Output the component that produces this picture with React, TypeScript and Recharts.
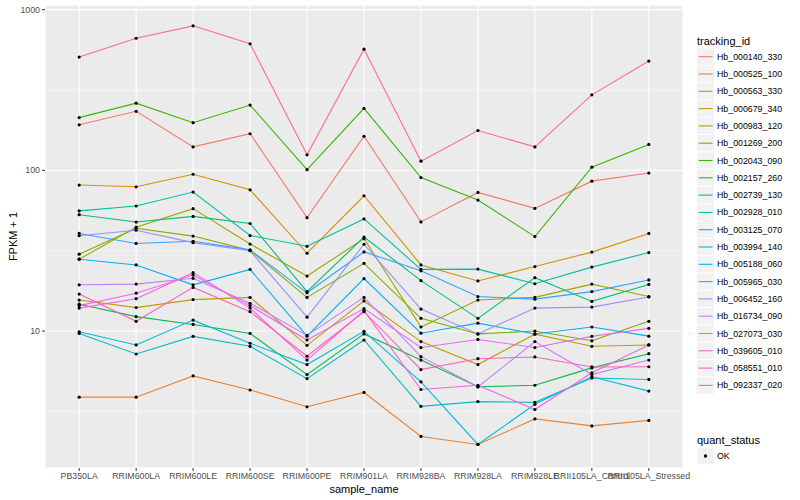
import React from 'react';
import { LineChart, Line, XAxis, YAxis, CartesianGrid } from 'recharts';

const FONT = '"Liberation Sans", Arial, Helvetica, sans-serif';

const samples = [
  'PB350LA', 'RRIM600LA', 'RRIM600LE', 'RRIM600SE', 'RRIM600PE', 'RRIM901LA',
  'RRIM928BA', 'RRIM928LA', 'RRIM928LE', 'RRII105LA_Control', 'RRII105LA_Stressed',
];

const trackingIds = [
  'Hb_000140_330', 'Hb_000525_100', 'Hb_000563_330', 'Hb_000679_340', 'Hb_000983_120',
  'Hb_001269_200', 'Hb_002043_090', 'Hb_002157_260', 'Hb_002739_130', 'Hb_002928_010',
  'Hb_003125_070', 'Hb_003994_140', 'Hb_005188_060', 'Hb_005965_030', 'Hb_006452_160',
  'Hb_016734_090', 'Hb_027073_030', 'Hb_039605_010', 'Hb_058551_010', 'Hb_092337_020',
];

const colors = [
  '#F8766D', '#EA8331', '#D89000', '#C09B00', '#A3A500', '#7CAE00', '#39B600', '#00BB4E',
  '#00BF7D', '#00C1A3', '#00BFC4', '#00BAE0', '#00B0F6', '#35A2FF', '#9590FF', '#C77CFF',
  '#E76BF3', '#FA62DB', '#FF62BC', '#FF6C91',
];

const hb000140 = [192, 233, 140, 169, 50.8, 163, 47.8, 72.9, 58, 85.7, 96.2];
const hb000525 = [3.88, 3.88, 5.26, 4.3, 3.38, 4.15, 2.21, 1.97, 2.84, 2.57, 2.78];
const hb000563 = [81, 79, 94.6, 75.7, 30.5, 69.5, 25.8, 20.5, 25.2, 31.0, 40.5];
const hb000679 = [15.6, 14.0, 15.7, 16.2, 8.15, 15.4, 8.6, 6.19, 9.57, 8.04, 8.2];
const hb000983 = [28.0, 44.3, 57.8, 34.8, 22.0, 37.6, 10.6, 15.6, 16.2, 19.6, 16.4];
const hb001269 = [30.1, 43.6, 39.0, 31.8, 16.2, 26.4, 12.0, 9.6, 10.0, 8.7, 11.5];
const hb002043 = [213, 262, 198, 255, 101, 243, 90.2, 65.3, 38.7, 104.7, 145];
const hb002157 = [14.7, 12.3, 11.0, 9.67, 5.36, 9.6, 6.6, 4.5, 4.6, 5.9, 7.23];
const hb002739 = [53, 47.7, 51.7, 46.7, 17.6, 38.5, 20.6, 12.0, 21.5, 15.3, 19.5];
const hb002928 = [56, 60, 73.3, 39.3, 33.7, 49.9, 24.2, 24.3, 19.7, 25.0, 30.8];
const hb003125 = [9.67, 7.2, 9.27, 8.04, 5.06, 8.8, 3.4, 3.64, 3.6, 5.1, 5.0];
const hb003994 = [9.9, 8.2, 11.7, 8.4, 6.19, 9.96, 4.83, 1.97, 3.5, 5.2, 4.23];
const hb005188 = [28.0, 25.8, 19.4, 24.2, 9.3, 21.2, 9.7, 11.2, 9.6, 10.6, 9.3];
const hb005965 = [40.5, 35.1, 36.2, 32.0, 17.3, 31.1, 23.7, 16.4, 15.8, 17.6, 20.8];
const hb006452 = [39.2, 42.4, 35.5, 31.6, 12.2, 34.7, 13.7, 9.6, 13.9, 14.1, 16.3];
const hb016734 = [19.4, 19.6, 21.3, 14.9, 9.4, 16.2, 6.93, 4.5, 8.6, 5.36, 6.6];
const hb027073 = [14.4, 17.2, 22.3, 14.4, 8.8, 13.8, 7.9, 8.87, 7.9, 9.27, 10.4];
const hb039605 = [13.9, 15.9, 23.1, 13.9, 6.6, 13.4, 4.33, 4.6, 3.25, 5.5, 8.2];
const hb058551 = [17.0, 11.5, 18.7, 13.2, 6.97, 13.2, 5.76, 6.73, 6.9, 5.98, 6.0];
const hb092337 = [507, 664, 793, 613, 125, 568, 114, 177, 140, 295, 479];

const seriesValues = [
  hb000140, hb000525, hb000563, hb000679, hb000983, hb001269, hb002043, hb002157,
  hb002739, hb002928, hb003125, hb003994, hb005188, hb005965, hb006452, hb016734,
  hb027073, hb039605, hb058551, hb092337,
];

const majorTicks = [10, 100, 1000];
const minorTicks = [Math.sqrt(10), Math.sqrt(1000), Math.sqrt(100000)];
const yDomain = [1.406, 1069];
const xTicks = samples.map((_, i) => i);

const data = samples.map((name, i) => {
  const row: Record<string, number | string> = { idx: i, name };
  trackingIds.forEach((id, j) => {
    row[id] = seriesValues[j][i];
  });
  return row;
});

const tickStyle = { fill: '#4D4D4D', fontSize: 8.8, fontFamily: FONT };

function Legends() {
  const itemStep = 17.3;
  const firstY = 56.7;
  return (
    <svg width={800} height={500} style={{ position: 'absolute', left: 0, top: 0, pointerEvents: 'none' }}>
      <text x={697} y={44.5} fontSize={11} fontFamily={FONT} fill="#000">tracking_id</text>
      {trackingIds.map((id, i) => {
        const cy = firstY + i * itemStep;
        return (
          <g key={id}>
            <rect x={697} y={cy - 8.2} width={17} height={16.4} fill="#F2F2F2" />
            <line x1={698.7} x2={712.5} y1={cy} y2={cy} stroke={colors[i]} strokeWidth={1.1} />
            <text x={717} y={cy} dominantBaseline="central" fontSize={8.8} fontFamily={FONT} fill="#000">{id}</text>
          </g>
        );
      })}
      <text x={697} y={444} fontSize={11} fontFamily={FONT} fill="#000">quant_status</text>
      <rect x={697} y={456 - 8.2} width={17} height={16.4} fill="#F2F2F2" />
      <circle cx={705.5} cy={456} r={1.7} fill="#000" />
      <text x={717} y={456} dominantBaseline="central" fontSize={8.8} fontFamily={FONT} fill="#000">OK</text>
    </svg>
  );
}

export default function App() {
  return (
    <div style={{ position: 'absolute', left: 0, top: 0, width: 800, height: 500, background: '#fff', fontFamily: FONT }}>
      <LineChart width={800} height={500} data={data} margin={{ top: 5, right: 117, bottom: 0, left: 0 }}>
        <CartesianGrid xAxisId="x" yAxisId="minor" fill="#EBEBEB" fillOpacity={1} stroke="#FFFFFF" strokeWidth={0.55} vertical={false} />
        <CartesianGrid xAxisId="x" yAxisId="major" stroke="#FFFFFF" strokeWidth={1.1} />
        <XAxis
          xAxisId="x"
          type="number"
          dataKey="idx"
          domain={[-0.6, 10.6]}
          ticks={xTicks}
          interval={0}
          allowDataOverflow
          tickFormatter={(v: number) => samples[v] ?? ''}
          height={32}
          tickSize={3}
          tickMargin={2}
          axisLine={false}
          tickLine={{ stroke: '#333333' }}
          tick={tickStyle}
          label={() => (
            <text x={364} y={489} textAnchor="middle" dominantBaseline="central" fontSize={11} fontFamily={FONT} fill="#000">
              sample_name
            </text>
          )}
        />
        <YAxis
          yAxisId="major"
          type="number"
          scale="log"
          domain={yDomain}
          ticks={majorTicks}
          allowDataOverflow
          width={45}
          tickSize={3}
          tickMargin={2}
          axisLine={false}
          tickLine={{ stroke: '#333333' }}
          tick={tickStyle}
          label={() => (
            <text x={13} y={236.5} transform="rotate(-90 13 236.5)" textAnchor="middle" dominantBaseline="central" fontSize={11} fontFamily={FONT} fill="#000">
              FPKM + 1
            </text>
          )}
        />
        <YAxis yAxisId="minor" type="number" scale="log" domain={yDomain} ticks={minorTicks} allowDataOverflow hide />
        {trackingIds.map((id, i) => (
          <Line
            key={id}
            xAxisId="x"
            yAxisId="major"
            type="linear"
            dataKey={id}
            stroke={colors[i]}
            strokeWidth={1.1}
            dot={false}
            activeDot={false}
            isAnimationActive={false}
          />
        ))}
        {trackingIds.map((id) => (
          <Line
            key={id + '_pts'}
            xAxisId="x"
            yAxisId="major"
            type="linear"
            dataKey={id}
            stroke="none"
            dot={{ r: 1.6, fill: '#000', stroke: 'none' }}
            activeDot={false}
            legendType="none"
            isAnimationActive={false}
          />
        ))}
      </LineChart>
      <Legends />
    </div>
  );
}
